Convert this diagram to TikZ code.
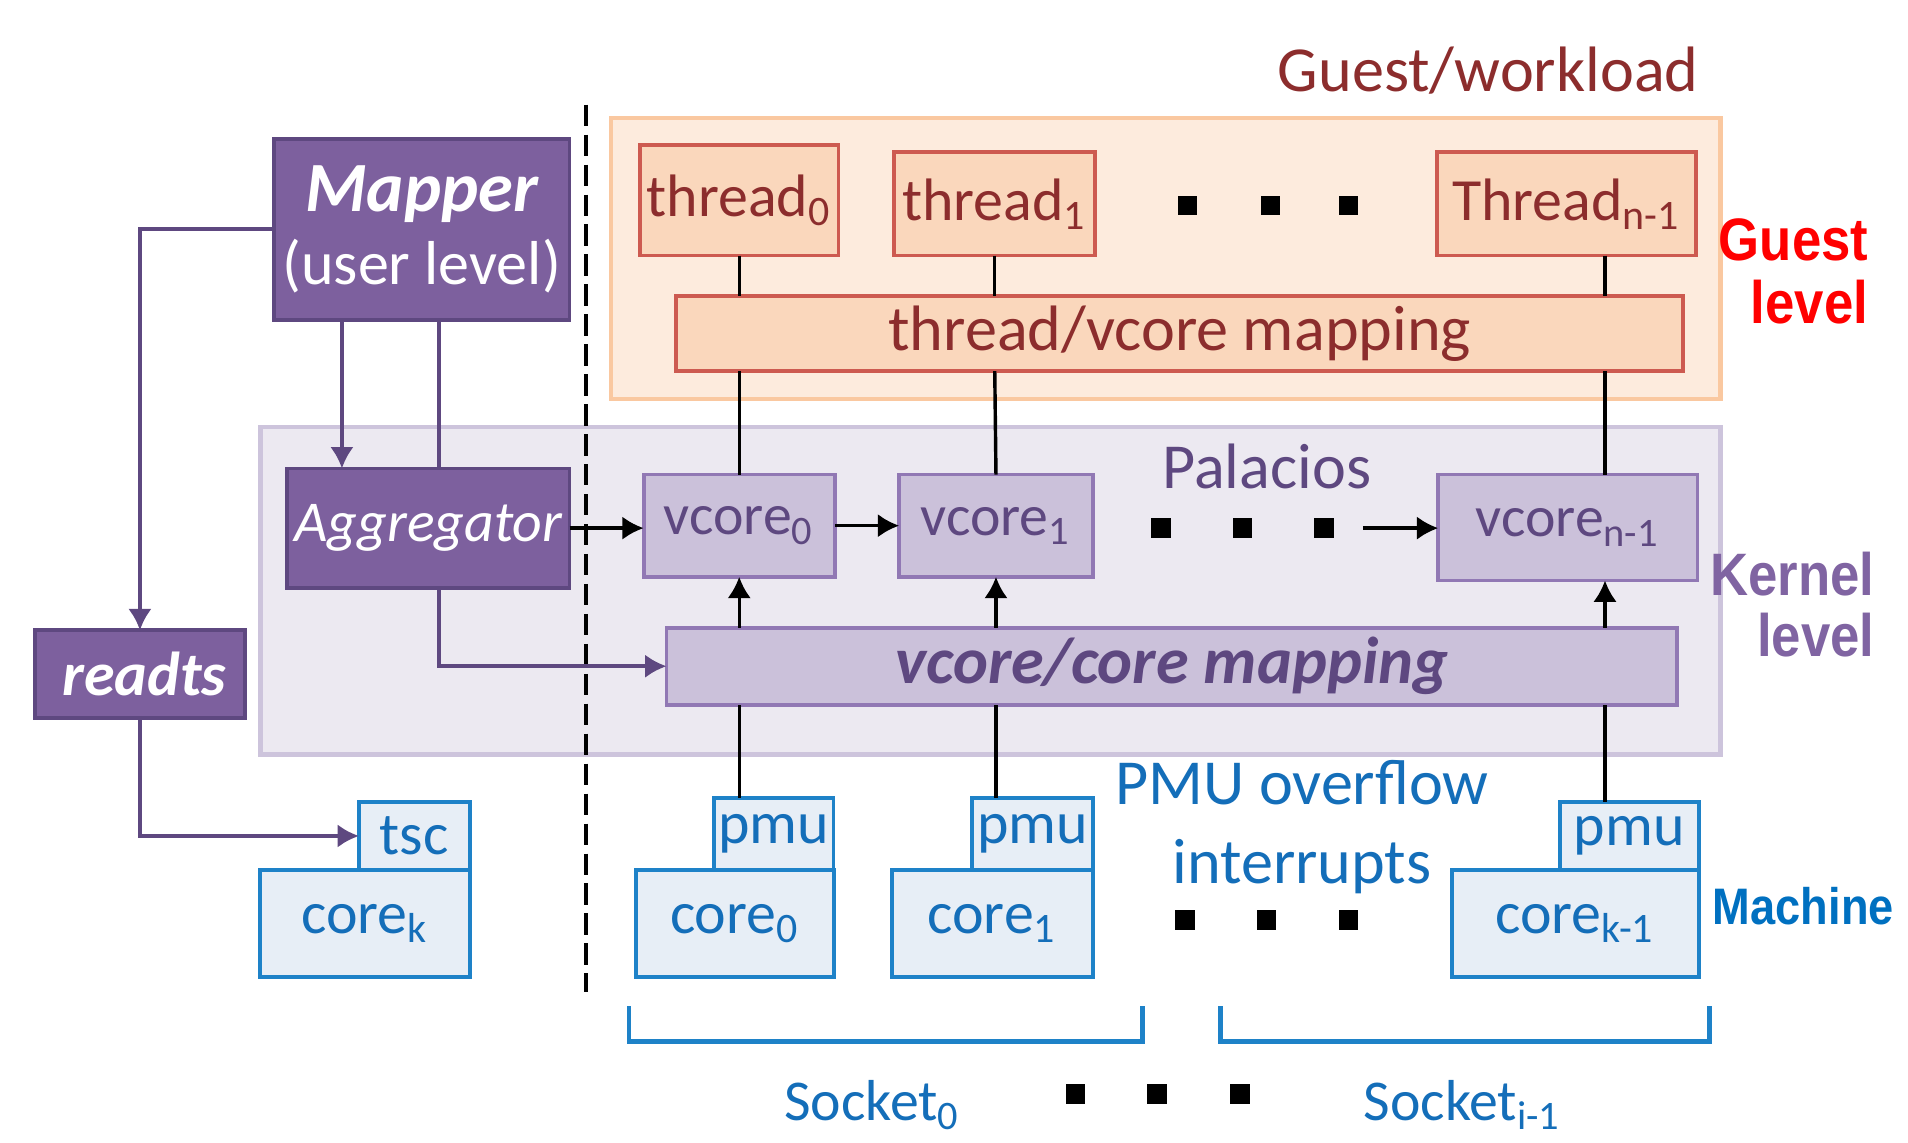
\documentclass[tikz,border=0pt]{standalone}
\usepackage{fontspec}
\setmainfont{Carlito}
\newfontfamily\levelfont[FakeStretch=0.88]{Liberation Sans}
\usetikzlibrary{arrows.meta}

\definecolor{userfill}{RGB}{125,96,158}
\definecolor{userline}{RGB}{94,72,128}
\definecolor{guestbg}{RGB}{253,235,221}
\definecolor{guestline}{RGB}{250,200,160}
\definecolor{tfill}{RGB}{250,215,188}
\definecolor{tline}{RGB}{205,90,80}
\definecolor{ttext}{RGB}{140,45,45}
\definecolor{palbg}{RGB}{236,233,241}
\definecolor{palline}{RGB}{205,196,220}
\definecolor{vfill}{RGB}{203,193,218}
\definecolor{vline}{RGB}{145,120,180}
\definecolor{vtext}{RGB}{94,72,128}
\definecolor{mfill}{RGB}{231,238,246}
\definecolor{mline}{RGB}{30,130,200}
\definecolor{mtext}{RGB}{20,110,185}
\definecolor{kerncol}{RGB}{128,100,162}
\definecolor{machcol}{RGB}{0,112,192}

\begin{document}
\begin{tikzpicture}[x=0.01cm,y=-0.01cm,>={Latex[length=5pt,width=5.5pt]},
  box/.style={draw,line width=0.9pt,inner sep=0pt,outer sep=0pt},
  userbox/.style={box,fill=userfill,draw=userline,text=white},
  tbox/.style={box,fill=tfill,draw=tline,text=ttext,font=\fontsize{14}{16}\selectfont},
  vbox/.style={box,fill=vfill,draw=vline,text=vtext,font=\fontsize{13.5}{16}\selectfont},
  mbox/.style={box,fill=mfill,draw=mline,text=mtext,font=\fontsize{14}{16}\selectfont},
  levellabel/.style={anchor=east,align=right,inner sep=0pt},
  bline/.style={line width=0.8pt},
  uline/.style={line width=0.9pt,draw=userline}]
\useasboundingbox (0,0) rectangle (1568,939);

% Regions
\draw[fill=guestbg,draw=guestline,line width=1pt] (502,97) rectangle (1414,328);
\draw[fill=palbg,draw=palline,line width=1pt] (214,351) rectangle (1414,620);
\draw[dash pattern=on 5pt off 2pt,line width=0.9pt] (481.5,86) -- (481.5,815);

% User level
\node[userbox,minimum width=2.43cm,minimum height=1.49cm,align=center] (mapper) at (346.5,188.5)
  {{\fontsize{16.5}{18}\selectfont\bfseries\itshape Mapper}\\[3pt]{\fontsize{14.5}{17}\selectfont (user level)}};
\node[userbox,minimum width=2.32cm,minimum height=0.98cm,font=\fontsize{13.5}{16}\selectfont\itshape] (agg) at (352,434) {Aggregator};
\node[userbox,minimum width=1.72cm,minimum height=0.72cm,font=\fontsize{14.5}{16}\selectfont\bfseries\itshape] (readts) at (115,554) {\hspace{2pt}readts};

% Guest level
\node[text=ttext,font=\fontsize{15}{18}\selectfont] (workload) at (1223,58) {Guest/workload};
\node[tbox,minimum width=1.63cm,minimum height=0.91cm] (t0) at (607.5,164.5) {thread\textsubscript{0}};
\node[tbox,minimum width=1.65cm,minimum height=0.85cm] (t1) at (817.5,167.5) {thread\textsubscript{1}};
\node[tbox,minimum width=2.13cm,minimum height=0.85cm] (tn) at (1287.5,167.5) {Thread\textsubscript{n-1}};
\node[tbox,minimum width=8.27cm,minimum height=0.62cm,font=\fontsize{15}{18}\selectfont] (tvmap) at (969.5,274) {thread/vcore mapping};
\foreach \x in {976,1044,1108} \fill (\x-8,161) rectangle +(16,16);

% Kernel level
\node[text=vtext,font=\fontsize{15}{18}\selectfont] (palacios) at (1041,383) {Palacios};
\node[vbox,minimum width=1.57cm,minimum height=0.84cm] (vc0) at (607.5,432) {vcore\textsubscript{0}};
\node[vbox,minimum width=1.59cm,minimum height=0.84cm] (vc1) at (818.5,432) {vcore\textsubscript{1}};
\node[vbox,minimum width=2.13cm,minimum height=0.87cm] (vcn) at (1288.5,433.5) {vcore\textsubscript{n-1}};
\node[vbox,minimum width=8.30cm,minimum height=0.63cm,font=\fontsize{15.5}{18}\selectfont\bfseries\itshape] (vcmap) at (963,547.5) {vcore/core mapping};
\foreach \x in {954,1021,1088} \fill (\x-8,426) rectangle +(16,16);

% Machine
\node[mbox,minimum width=1.72cm,minimum height=0.88cm] (corek) at (300,759) {core\textsubscript{k}};
\node[mbox,minimum width=0.91cm,minimum height=0.56cm] (tsc) at (340.5,687) {tsc};
\node[mbox,minimum width=1.62cm,minimum height=0.88cm] (core0) at (604,759) {core\textsubscript{0}};
\node[mbox,minimum width=0.98cm,minimum height=0.59cm] (pmu0) at (636,685.5) {pmu};
\node[mbox,minimum width=1.65cm,minimum height=0.88cm] (core1) at (815.5,759) {core\textsubscript{1}};
\node[mbox,minimum width=0.99cm,minimum height=0.59cm] (pmu1) at (848.5,685.5) {pmu};
\node[mbox,minimum width=2.03cm,minimum height=0.88cm] (coren) at (1294.5,759) {core\textsubscript{k-1}};
\node[mbox,minimum width=1.14cm,minimum height=0.56cm] (pmun) at (1339,687) {pmu};
\node[text=mtext,align=center,font=\fontsize{15}{18.5}\selectfont] (pmuirq) at (1070,680) {PMU overflow\\interrupts};
\foreach \x in {974,1041,1108} \fill (\x-8,748) rectangle +(16,16);

% Sockets
\draw[mline,line width=1.1pt] (517,827) |- (939,856) -- (939,827);
\draw[mline,line width=1.1pt] (1003,827) |- (1405,856) -- (1405,827);
\foreach \x in {884,951,1019} \fill (\x-8,891) rectangle +(16,16);
\node[text=mtext,anchor=base,font=\fontsize{13.5}{16}\selectfont] (sock0) at (717,921) {Socket\textsubscript{0}};
\node[text=mtext,anchor=base,font=\fontsize{13.5}{16}\selectfont] (sockn) at (1202,921) {Socket\textsubscript{i-1}};

% Level labels
\node[levellabel,text=red,font=\levelfont\bfseries\fontsize{14}{14.8}\selectfont] (glevel) at (1536,223) {Guest\\level};
\node[levellabel,text=kerncol,font=\levelfont\bfseries\fontsize{14}{14.2}\selectfont] (klevel) at (1541,497) {Kernel\\level};
\node[levellabel,text=machcol,font=\levelfont\bfseries\fontsize{12}{14}\selectfont] (mlevel) at (1557,745) {Machine};

% Connectors
\coordinate (cdown) at (281,0);
\coordinate (cside) at (361,0);
\coordinate (cn) at (1319,0);
\coordinate (kdots) at (1120,434);
\draw[uline,->] (mapper.west) -| (readts.north);
\draw[uline,->] (mapper.south -| cdown) -- (agg.north -| cdown);
\draw[uline] (mapper.south -| cside) -- (agg.north -| cside);
\draw[uline,->] (agg.south -| cside) |- (vcmap.west);
\draw[uline,->] (readts.south) |- (tsc.west);

\draw[bline,->] (agg.east) -- (vc0.west |- agg.east);
\draw[bline,->] (vc0.east) -- (vc1.west);
\draw[bline,->] (kdots) -- (vcn.west |- kdots);

\draw[bline] (t0.south) -- (tvmap.north -| t0);
\draw[bline] (tvmap.south -| t0) -- (vc0.north);
\draw[bline] (t1.south) -- (tvmap.north -| t1);
\draw[bline] (tvmap.south -| t1) -- (vc1.north);
\draw[bline] (tn.south -| cn) -- (tvmap.north -| cn);
\draw[bline] (tvmap.south -| cn) -- (vcn.north -| cn);

\draw[bline,->] (vcmap.north -| vc0) -- (vc0.south);
\draw[bline,->] (vcmap.north -| vc1) -- (vc1.south);
\draw[bline,->] (vcmap.north -| cn) -- (vcn.south -| cn);
\draw[bline] (pmu0.north -| vc0) -- (vcmap.south -| vc0);
\draw[bline] (pmu1.north -| vc1) -- (vcmap.south -| vc1);
\draw[bline] (pmun.north -| cn) -- (vcmap.south -| cn);

\end{tikzpicture}
\end{document}
